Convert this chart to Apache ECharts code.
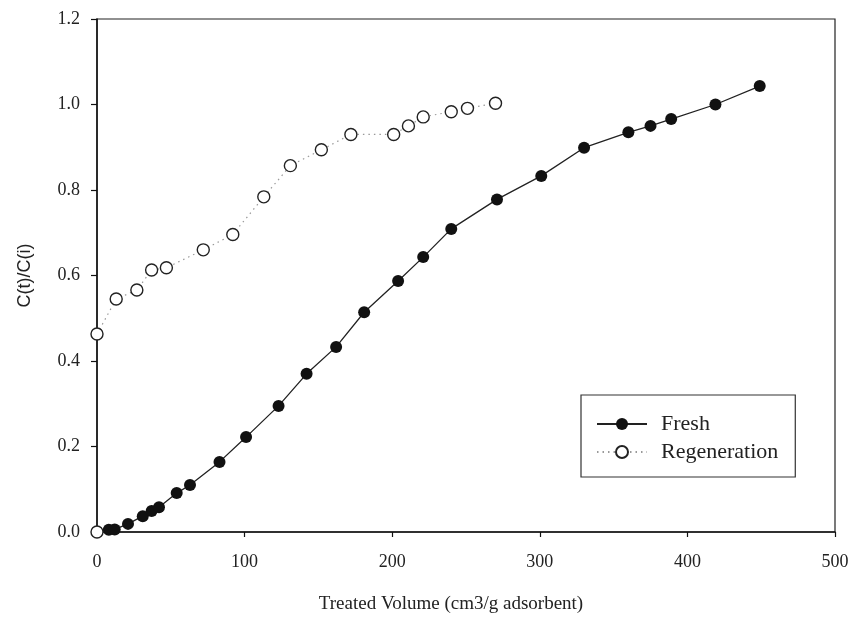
<!DOCTYPE html>
<html>
<head>
<meta charset="utf-8">
<script src="https://cdn.jsdelivr.net/npm/echarts@6/dist/echarts.min.js"></script>
<style>
  html, body { margin: 0; padding: 0; background: #fff; }
  #chart { width: 852px; height: 620px; }
</style>
</head>
<body>
<div id="chart"></div>
<script>
// Breakthrough curves: fresh vs regenerated adsorbent
const freshVolume = [0, 8, 12, 21, 31, 37, 42, 54, 63, 83, 101, 123, 142, 162, 181, 204, 221, 240, 271, 301, 330, 360, 375, 389, 419, 449];
const freshRatio  = [0, 0.005, 0.006, 0.019, 0.037, 0.049, 0.058, 0.091, 0.110, 0.164, 0.222, 0.295, 0.370, 0.433, 0.514, 0.587, 0.643, 0.709, 0.778, 0.833, 0.899, 0.935, 0.950, 0.966, 1.000, 1.043];

// First regeneration point sits at the origin, detached from the dotted curve
const regenVolume = [0, 0, 13, 27, 37, 47, 72, 92, 113, 131, 152, 172, 201, 211, 221, 240, 251, 270];
const regenRatio  = [0, 0.463, 0.545, 0.566, 0.613, 0.618, 0.660, 0.696, 0.784, 0.857, 0.894, 0.930, 0.930, 0.950, 0.971, 0.983, 0.991, 1.003];

const xTicks = [0, 100, 200, 300, 400, 500];
const yTicks = [0.0, 0.2, 0.4, 0.6, 0.8, 1.0, 1.2];

const serif = '"Liberation Serif", "DejaVu Serif", serif';

const freshData = freshVolume.map((v, i) => [v, freshRatio[i]]);
const regenData = [];
regenVolume.forEach((v, i) => {
  regenData.push([v, regenRatio[i]]);
  if (i === 0) regenData.push([v, '-']); // break the line after the origin point
});

const chart = echarts.init(document.getElementById('chart'), null, { renderer: 'canvas' });
chart.setOption({
  animation: false,
  backgroundColor: '#fff',
  grid: {
    left: 97, right: 17, top: 19, bottom: 88,
    show: true, borderColor: '#222', borderWidth: 1.2, backgroundColor: 'transparent'
  },
  xAxis: {
    type: 'value',
    min: xTicks[0], max: xTicks[xTicks.length - 1], interval: 100,
    name: 'Treated Volume (cm3/g adsorbent)',
    nameLocation: 'middle', nameGap: 63,
    nameTextStyle: { fontFamily: serif, fontSize: 19, color: '#222', padding: [0, 30, 0, 0] },
    axisLine: { show: true, onZero: false, lineStyle: { color: '#111', width: 1.5 } },
    axisTick: { show: true, inside: false, length: 5, lineStyle: { color: '#111', width: 1.2 } },
    axisLabel: { fontFamily: serif, fontSize: 18, color: '#222', margin: 21 },
    splitLine: { show: false }
  },
  yAxis: {
    type: 'value',
    min: yTicks[0], max: yTicks[yTicks.length - 1], interval: 0.2,
    name: 'C(t)/C(i)',
    nameLocation: 'middle', nameGap: 63, nameRotate: 90,
    nameTextStyle: { fontFamily: '"Liberation Sans", Arial, sans-serif', fontSize: 18, color: '#222' },
    axisLine: { show: true, lineStyle: { color: '#111', width: 1.5 } },
    axisTick: { show: true, inside: false, length: 6, lineStyle: { color: '#111', width: 1.2 } },
    axisLabel: { fontFamily: serif, fontSize: 18, color: '#222', margin: 17, formatter: v => v.toFixed(1) },
    splitLine: { show: false }
  },
  legend: {
    orient: 'vertical',
    left: 581, top: 395,
    padding: [18, 17, 14, 15],
    borderColor: '#333', borderWidth: 1.2,
    backgroundColor: '#fff',
    itemWidth: 50, itemHeight: 15, itemGap: 6,
    textStyle: { fontFamily: serif, fontSize: 22, color: '#222', padding: [0, 0, 0, 9] },
    data: ['Fresh', 'Regeneration']
  },
  series: [
    {
      name: 'Fresh',
      type: 'line',
      data: freshData,
      symbol: 'circle', symbolSize: 12,
      itemStyle: { color: '#111' },
      lineStyle: { color: '#222', width: 1.3 },
      z: 2
    },
    {
      name: 'Regeneration',
      type: 'line',
      data: regenData,
      connectNulls: false,
      symbol: 'circle', symbolSize: 12,
      itemStyle: { color: '#fff', borderColor: '#222', borderWidth: 1.4 },
      lineStyle: { color: '#999', width: 1.2, type: [1.5, 4] },
      z: 3
    }
  ]
});
</script>
</body>
</html>
